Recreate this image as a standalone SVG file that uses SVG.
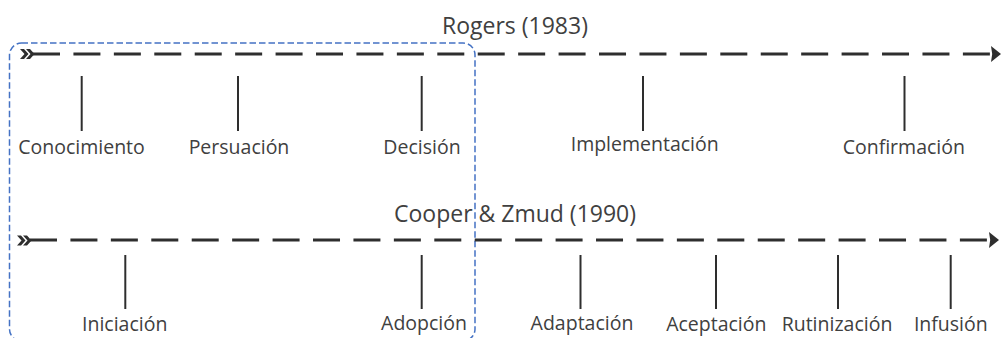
<svg xmlns="http://www.w3.org/2000/svg" xmlns:xlink="http://www.w3.org/1999/xlink" width="1003" height="338" viewBox="0 0 1003 338">
  <style>
    .axis { stroke: #2e2e2e; stroke-width: 3; stroke-dasharray: 27 13.43; fill: none; }
    .tick { stroke: #2e2e2e; stroke-width: 2; }
    .label { font-family: "Open Sans", "Noto Sans", sans-serif; font-size: 19.5px; fill: #404040; text-anchor: middle; }
    .title { font-family: "Open Sans", "Noto Sans", sans-serif; font-size: 23px; fill: #404040; text-anchor: middle; }
    .frame { fill: none; stroke: #4472C4; stroke-width: 1.5; stroke-dasharray: 6.5 3; }
  </style>
  <defs>
    <!-- double chevron at the start of each timeline -->
    <path id="start" fill="#2e2e2e" d="M-13,-5 L-9,-5 L-4.5,0 L-9,5 L-13,5 L-8.5,0 Z M-7,-5 L-3,-5 L1.5,0 L-3,5 L-7,5 L-2.5,0 Z"/>
    <marker id="arrow" markerUnits="userSpaceOnUse" markerWidth="12" markerHeight="18" refX="0" refY="0" orient="auto" overflow="visible">
      <path d="M0,-8 L10,0 L0,8 L1.2,0 Z" fill="#2e2e2e"/>
    </marker>
  </defs>

  <!-- dashed frame grouping the first stages -->
  <rect id="frame" class="frame" x="9.5" y="43" width="465.5" height="298" rx="12" ry="12"/>

  <g id="connectors">
    <line class="axis" x1="33" y1="54" x2="991" y2="54" marker-end="url(#arrow)"/>
    <use xlink:href="#start" transform="translate(33,54)"/>
    <line class="axis" x1="30" y1="240" x2="989" y2="240" marker-end="url(#arrow)"/>
    <use xlink:href="#start" transform="translate(30,240.5)"/>
  </g>

  <g id="rogers-title"><text class="title" x="515" y="34">Rogers (1983)</text></g>
  <g id="cooper-title"><text class="title" x="515" y="222">Cooper &amp; Zmud (1990)</text></g>

  <!-- Rogers stages -->
  <g id="conocimiento">
    <line class="tick" x1="81.7" y1="76" x2="81.7" y2="131"/>
    <text class="label" x="81.5" y="154">Conocimiento</text>
  </g>
  <g id="persuacion">
    <line class="tick" x1="238" y1="76" x2="238" y2="131"/>
    <text class="label" x="239" y="154">Persuación</text>
  </g>
  <g id="decision">
    <line class="tick" x1="421.7" y1="76" x2="421.7" y2="131"/>
    <text class="label" x="422" y="154">Decisión</text>
  </g>
  <g id="implementacion">
    <line class="tick" x1="643" y1="76" x2="643" y2="131"/>
    <text class="label" x="644.7" y="151">Implementación</text>
  </g>
  <g id="confirmacion">
    <line class="tick" x1="904.5" y1="76" x2="904.5" y2="131"/>
    <text class="label" x="903.8" y="154">Confirmación</text>
  </g>

  <!-- Cooper & Zmud stages -->
  <g id="iniciacion">
    <line class="tick" x1="125.3" y1="255" x2="125.3" y2="309"/>
    <text class="label" x="124.7" y="331">Iniciación</text>
  </g>
  <g id="adopcion">
    <line class="tick" x1="421.7" y1="255" x2="421.7" y2="309"/>
    <text class="label" x="424" y="329.5">Adopción</text>
  </g>
  <g id="adaptacion">
    <line class="tick" x1="580.5" y1="255" x2="580.5" y2="309"/>
    <text class="label" x="582" y="329.5">Adaptación</text>
  </g>
  <g id="aceptacion">
    <line class="tick" x1="716" y1="255" x2="716" y2="309"/>
    <text class="label" x="716.3" y="331">Aceptación</text>
  </g>
  <g id="rutinizacion">
    <line class="tick" x1="838" y1="255" x2="838" y2="309"/>
    <text class="label" x="837" y="331">Rutinización</text>
  </g>
  <g id="infusion">
    <line class="tick" x1="950.7" y1="255" x2="950.7" y2="309"/>
    <text class="label" x="950.8" y="331">Infusión</text>
  </g>
</svg>
